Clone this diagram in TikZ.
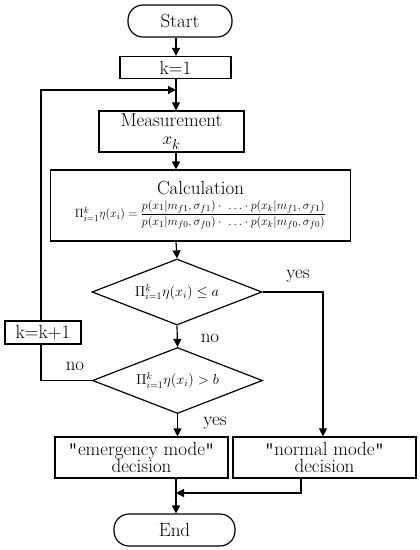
\documentclass[tikz,border=0pt]{standalone}
\usepackage{amsmath}
\usepackage{fontspec}
\usepackage{tikz}
\usetikzlibrary{arrows.meta, positioning, shapes.geometric}

\newcommand{\dq}{{\ttfamily"}}

\begin{document}
\begin{tikzpicture}[
  x=1pt, y=-1pt,
  every node/.style={font=\fontsize{19}{20}\selectfont},
  term/.style={draw, line width=1.2pt, rectangle, rounded corners=15pt, minimum height=32pt},
  box/.style={draw, line width=1.2pt, rectangle, inner sep=1pt, align=center},
  cond/.style={draw, line width=1.2pt, diamond, aspect=2.6, inner sep=0pt,
    minimum width=170pt, minimum height=66pt, font=\fontsize{14}{16}\selectfont},
  flow/.style={-{Triangle[length=8pt, width=8pt]}, line width=1.2pt},
  wire/.style={line width=1.2pt},
  tag/.style={inner sep=0pt},
]
\useasboundingbox (0,0) rectangle (420,550);

%% Nodes
\node[term, minimum width=104pt] (start) at (180,21) {Start};
\node[box, minimum width=111pt, minimum height=22pt] (kinit) at (175.5,67.5) {k=1};
\node[box, minimum width=145pt, minimum height=41pt] (meas) at (171.5,131.5)
  {Measurement\\[-2pt]$x_k$};
\node[box, minimum width=300pt, minimum height=71pt] (calc) at (200.5,205.5)
  {Calculation\\[3pt]{\fontsize{12.5}{13}\selectfont
   $\Pi_{i=1}^{k}\eta(x_i)=\dfrac{p(x_1|m_{f1},\sigma_{f1})\cdot\ \ldots\cdot p(x_k|m_{f1},\sigma_{f1})}
                                  {p(x_1|m_{f0},\sigma_{f0})\cdot\ \ldots\cdot p(x_k|m_{f0},\sigma_{f0})}$}};
\node[cond] (dec1) at (177,292) {$\Pi_{i=1}^{k}\eta(x_i)\le a$};
\node[cond] (dec2) at (177.5,380.5) {$\Pi_{i=1}^{k}\eta(x_i)> b$};
\node[box, minimum width=76pt, minimum height=23pt] (kinc) at (43,332.5) {k=k+1};
\node[box, minimum width=173pt, minimum height=41pt] (emerg) at (141.5,457.5)
  {\dq emergency mode\dq\\[-3pt]decision};
\node[box, minimum width=183pt, minimum height=41pt] (normal) at (324.5,457.5)
  {\dq normal mode\dq\\[-3pt]decision};
\node[term, minimum width=121pt] (stop) at (174.5,530) {End};

%% Helper points
\coordinate (axis) at (176,0);
\coordinate (loopin) at (176,90);
\coordinate (loopx) at (41,0);
\coordinate (yesx) at (323,0);
\coordinate (joinx) at (301,0);
\coordinate (merge) at (176,493);

%% Main flow
\draw[flow] (start.south -| axis) -- (kinit.north -| axis);
\draw[flow] (kinit.south -| axis) -- (meas.north -| axis);
\draw[flow] (meas.south -| axis) -- (calc.north -| axis);
\draw[flow] (calc.south -| axis) -- (dec1.north);
\draw[flow] (dec1.south) -- (dec2.north);
\draw[flow] (dec2.south) -- (emerg.north -| dec2.south);

%% Yes branch of the first test
\draw[flow] (dec1.east) -- (dec1.east -| yesx) -- (normal.north -| yesx);

%% Loop back
\draw[wire] (dec2.west) -- (dec2.west -| loopx) -- (kinc.south -| loopx);
\draw[flow] (kinc.north -| loopx) -- (loopin -| loopx) -- (loopin);

%% Merge towards End
\draw[flow] (emerg.south -| axis) -- (stop.north -| axis);
\draw[flow] (normal.south -| joinx) -- (merge -| joinx) -- (merge);

%% Labels
\node[tag] (yes1) at (298,276) {yes};
\node[tag] (no1) at (210,338) {no};
\node[tag] (no2) at (75,366) {no};
\node[tag] (yes2) at (215,423) {yes};

\end{tikzpicture}
\end{document}
